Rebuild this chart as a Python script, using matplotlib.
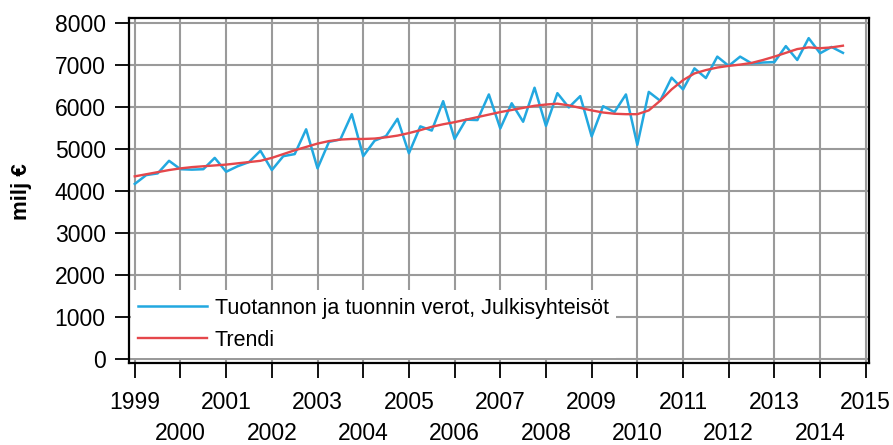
import matplotlib
matplotlib.use("Agg")
import matplotlib.pyplot as plt
import numpy as np

plt.rcParams['font.family'] = ['Liberation Sans', 'DejaVu Sans']

# quarterly series 1999Q1 - 2014Q3
start_year = 1999
verot = [
    4170, 4380, 4420, 4720,   # 1999
    4520, 4510, 4520, 4790,   # 2000
    4460, 4590, 4690, 4960,   # 2001
    4500, 4830, 4880, 5470,   # 2002
    4540, 5170, 5230, 5830,   # 2003
    4830, 5200, 5310, 5720,   # 2004
    4900, 5540, 5440, 6140,   # 2005
    5240, 5700, 5690, 6300,   # 2006
    5490, 6090, 5650, 6460,   # 2007
    5550, 6330, 5990, 6260,   # 2008
    5300, 6020, 5880, 6300,   # 2009
    5100, 6360, 6150, 6700,   # 2010
    6420, 6920, 6690, 7200,   # 2011
    6980, 7200, 7040, 7060,   # 2012
    7070, 7450, 7120, 7640,   # 2013
    7280, 7430, 7290,         # 2014
]
trendi = [
    4350, 4400, 4450, 4500,
    4540, 4570, 4590, 4610,
    4630, 4660, 4690, 4720,
    4790, 4880, 4970, 5050,
    5130, 5190, 5225, 5240,
    5240, 5250, 5280, 5320,
    5380, 5450, 5530, 5590,
    5640, 5700, 5760, 5820,
    5880, 5930, 5980, 6030,
    6060, 6080, 6040, 5980,
    5920, 5870, 5840, 5830,
    5830, 5920, 6150, 6420,
    6640, 6800, 6880, 6940,
    6980, 7010, 7050, 7120,
    7200, 7290, 7380, 7420,
    7400, 7420, 7460,
]
upper_years = list(range(1999, 2016, 2))
lower_years = list(range(2000, 2015, 2))
y_ticks = list(range(0, 8001, 1000))

label_verot = 'Tuotannon ja tuonnin verot, Julkisyhteisöt'
label_trendi = 'Trendi'

x = start_year + np.arange(len(verot)) / 4.0

fig = plt.figure(figsize=(8.93, 4.45), dpi=100)
ax = fig.add_axes([0.1448, 0.1836, 0.9731 - 0.1448, 0.9596 - 0.1836])

ax.plot(x, verot, color='#22a8e0', lw=1.8, label=label_verot, zorder=3)
ax.plot(x, trendi, color='#e5474b', lw=1.7, label=label_trendi, zorder=4)

ax.set_xlim(1998.88, 2015.07)
ax.set_ylim(-100, 8120)

ax.set_xticks(upper_years)
ax.set_xticklabels([str(y) for y in upper_years])
ax.set_xticks(lower_years, minor=True)
ax.set_xticklabels([str(y) for y in lower_years], minor=True)
ax.set_yticks(y_ticks)
ax.set_yticklabels([str(v) for v in y_ticks])

ax.tick_params(axis='x', which='major', length=11, width=1.3, pad=9, labelsize=16.5)
ax.tick_params(axis='x', which='minor', length=11, width=1.3, pad=31, labelsize=16.5)
ax.tick_params(axis='y', length=10, width=1.3, pad=7, labelsize=16.5)

ax.grid(True, which='both', color='#9a9a9a', lw=1.5, zorder=0)
ax.set_axisbelow(True)
for s in ax.spines.values():
    s.set_linewidth(1.6)
    s.set_color('black')

fig.text(22 / 893, 0.57, 'milj €', rotation=90, ha='center', va='center',
         fontsize=16, fontweight='bold')

leg = ax.legend(loc='lower left', bbox_to_anchor=(0.002, 0.015), borderaxespad=0,
                fontsize=15.5, frameon=True, fancybox=False, framealpha=1,
                facecolor='white', edgecolor='none', handlelength=3.2,
                handletextpad=0.35, labelspacing=0.5, borderpad=0.35)
leg.set_zorder(5)

fig.savefig('out.png', dpi=100, facecolor='white')
